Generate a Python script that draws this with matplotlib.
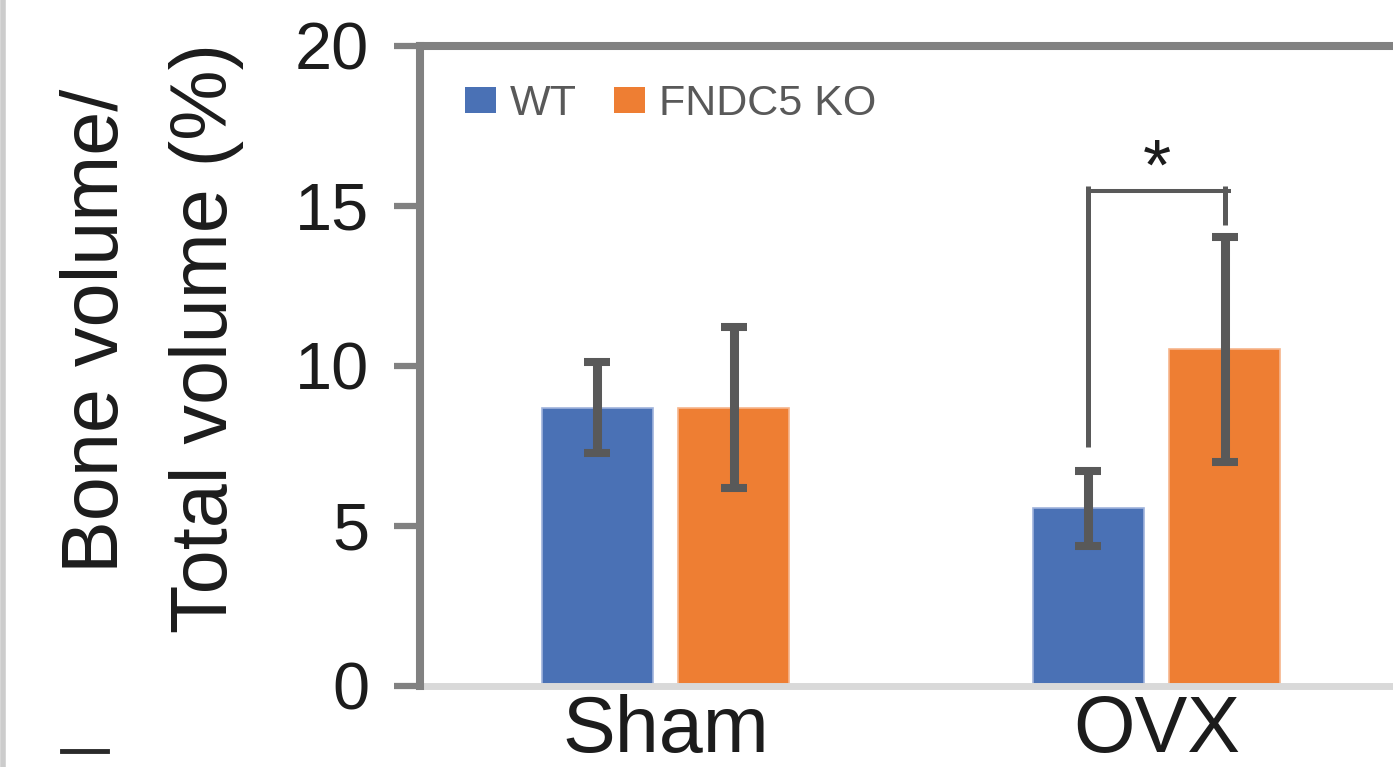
import matplotlib
matplotlib.use("Agg")
import matplotlib.pyplot as plt
from matplotlib.patches import Patch
from matplotlib.lines import Line2D
import numpy as np

# ---- data ----
groups = ["Sham", "OVX"]
series = ["WT", "FNDC5 KO"]
wt_mean = [8.70, 5.55]
wt_err = [1.41, 1.17]
ko_mean = [8.70, 10.52]
ko_err = [2.52, 3.52]
yticks = [0, 5, 10, 15, 20]
ylabel_lines = ["Bone volume/", "Total volume (%)"]
sig_label = "*"

# ---- style ----
plt.rcParams['font.family'] = ['Liberation Sans', 'DejaVu Sans']
W, H = 1393, 767
fig = plt.figure(figsize=(W / 100, H / 100), dpi=100)

blue = "#4a71b5"
orange = "#ee7e33"
err_col = "#595959"
axis_col = "#818181"
base_col = "#d9d9d9"

ax_left = 420 / W
ax_bottom = (H - 686) / H
ax_top = (H - 46) / H
ax_width = 982 / W
ax = fig.add_axes([ax_left, ax_bottom, ax_width, ax_top - ax_bottom])

x = np.arange(len(groups))
bw = 0.228
off = 0.1385

ax.bar(x - off, wt_mean, bw, color=blue, edgecolor="#9fb3dc", linewidth=1.2, zorder=2)
ax.bar(x + off, ko_mean, bw, color=orange, edgecolor="#f6b58c", linewidth=1.2, zorder=2)
ax.errorbar(x - off, wt_mean, yerr=wt_err, fmt='none', ecolor=err_col,
            elinewidth=6.5, capsize=9.4, capthick=5.8, zorder=3)
ax.errorbar(x + off, ko_mean, yerr=ko_err, fmt='none', ecolor=err_col,
            elinewidth=6.5, capsize=9.4, capthick=5.8, zorder=3)

ax.set_xlim(-0.5, 1.5)
ax.set_ylim(0, 20)
ax.set_yticks(yticks)
ax.set_yticklabels([str(v) for v in yticks])
ax.set_xticks(x)
ax.set_xticklabels(groups)

ax.tick_params(axis='y', length=18.7, width=4.5, color=axis_col, pad=18,
               labelsize=48, labelcolor="#1c1c1c")
ax.tick_params(axis='x', length=0, pad=6, labelsize=57, labelcolor="#1c1c1c")

for s in ['left', 'top']:
    ax.spines[s].set_color(axis_col)
    ax.spines[s].set_linewidth(5.8)
ax.spines['bottom'].set_color(base_col)
ax.spines['bottom'].set_linewidth(5.0)
ax.spines['right'].set_visible(False)
for s in ax.spines.values():
    s.set_zorder(2.5)
ax.spines['left'].set_zorder(4)

# significance bracket
i = 1
xl = x[i] - off
xr = x[i] + off
top = max(wt_mean[i] + wt_err[i], ko_mean[i] + ko_err[i]) + 1.6
ax.plot([xl, xl], [wt_mean[i] + wt_err[i] + 0.75, top], color=err_col, lw=3.6,
        solid_capstyle='butt', zorder=3)
ax.plot([xr, xr], [ko_mean[i] + ko_err[i] + 0.38, top], color=err_col, lw=3.6,
        solid_capstyle='butt', zorder=3)
ax.plot([xl, xr + 0.014], [top - 0.16, top - 0.16], color=err_col, lw=2.9,
        solid_capstyle='butt', zorder=3)
ax.text(x[i], top - 0.12, sig_label, ha='center', va='baseline', fontsize=52,
        color="#1c1c1c")

# legend
handles = [Patch(facecolor=blue, edgecolor='none'),
           Patch(facecolor=orange, edgecolor='none')]
fig.legend(handles, series, loc='center left',
           bbox_to_anchor=(465 / W, (H - 104) / H), ncol=2, frameon=False,
           fontsize=31, labelcolor="#595959", handlelength=0.72,
           handleheight=0.55, handletextpad=0.33, columnspacing=0.85,
           borderpad=0, borderaxespad=0)

# y label (two lines)
fig.text(118 / W, (H - 331) / H, ylabel_lines[0], rotation=90,
         rotation_mode='anchor', ha='center', va='baseline', fontsize=57,
         color="#1c1c1c")
fig.text(227 / W, (H - 338) / H, ylabel_lines[1], rotation=90,
         rotation_mode='anchor', ha='center', va='baseline', fontsize=57,
         color="#1c1c1c")

# page decorations (frame edge and fragment of neighbouring panel)
fig.add_artist(Line2D([3 / W, 3 / W], [0, 1], color="#cccccc", lw=4))
fig.add_artist(Line2D([62 / W, 107 / W], [(H - 751) / H, (H - 751) / H],
                      color="#2a2a2a", lw=3.5))

fig.savefig("out.png", dpi=100)
